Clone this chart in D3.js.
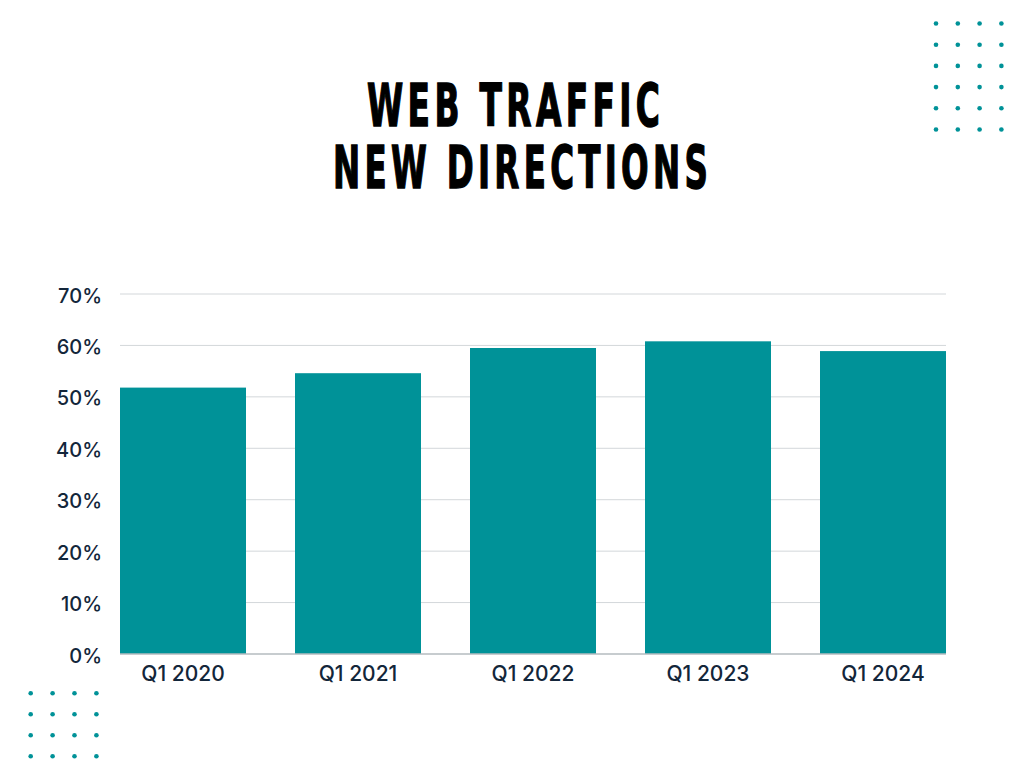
<!DOCTYPE html>
<html>
<head>
  <meta charset="utf-8">
  <style>
    body { margin: 0; background: white; font-family: Inter, "Open Sans", sans-serif; }
    svg { display: block; }
  </style>
</head>
<body>
  <svg id="chart"></svg>
  <script src="https://cdn.jsdelivr.net/npm/d3@7/dist/d3.min.js"></script>
  <script>
    // data
    var categories = ["Q1 2020", "Q1 2021", "Q1 2022", "Q1 2023", "Q1 2024"];
    var values = [51.8, 54.6, 59.5, 60.8, 58.9];
    var tickValues = [0, 10, 20, 30, 40, 50, 60, 70];
    var titleLines = ["WEB TRAFFIC", "NEW DIRECTIONS"];

    var width = 1024, height = 768;
    var margin = { top: 294, left: 120, right: 78, bottom: 114 };
    var teal = "#009298";

    var svg = d3.select("#chart")
      .attr("width", width)
      .attr("height", height);

    // title: tracked-out bold text squeezed horizontally to the widths seen
    var titleWidths = [293, 375];
    var titleLefts = [367, 333];
    var tracking = 7;
    svg.append("g").selectAll("text")
      .data(titleLines)
      .join("text")
      .attr("font-family", "'Liberation Sans Narrow', 'DejaVu Sans Condensed', sans-serif")
      .attr("font-weight", "bold")
      .attr("font-size", 59)
      .attr("letter-spacing", tracking)
      .attr("fill", "#000")
      .attr("stroke", "#000")
      .attr("stroke-width", 1.4)
      .text(function(d) { return d; })
      .attr("transform", function(d, i) {
        var len = this.getComputedTextLength() - tracking;
        var s = titleWidths[i] / len;
        return "translate(" + titleLefts[i] + "," + (126 + i * 62) + ") scale(" + s + ",1)";
      });

    var x = d3.scaleBand()
      .domain(categories)
      .range([margin.left, width - margin.right])
      .paddingInner(0.28)
      .paddingOuter(0);

    var y = d3.scaleLinear()
      .domain([0, 70])
      .range([height - margin.bottom, margin.top]);

    // gridlines
    svg.append("g").selectAll("line")
      .data(tickValues.filter(function(d) { return d > 0; }))
      .join("line")
      .attr("x1", margin.left)
      .attr("x2", width - margin.right)
      .attr("y1", function(d) { return y(d); })
      .attr("y2", function(d) { return y(d); })
      .attr("stroke", "#d3d7da")
      .attr("stroke-width", 1);

    // bars
    svg.append("g").selectAll("rect")
      .data(values)
      .join("rect")
      .attr("x", function(d, i) { return x(categories[i]); })
      .attr("y", function(d) { return y(d); })
      .attr("width", x.bandwidth())
      .attr("height", function(d) { return y(0) - y(d); })
      .attr("fill", teal);

    // baseline
    svg.append("line")
      .attr("x1", margin.left)
      .attr("x2", width - margin.right)
      .attr("y1", y(0))
      .attr("y2", y(0))
      .attr("stroke", "#b4bbbf")
      .attr("stroke-width", 1.5);

    // y axis labels
    var yAxis = d3.axisLeft(y)
      .tickValues(tickValues)
      .tickFormat(function(d) { return d + "%"; })
      .tickSize(0)
      .tickPadding(18);
    var yG = svg.append("g")
      .attr("transform", "translate(" + margin.left + ",0)")
      .call(yAxis);
    yG.select(".domain").remove();
    yG.selectAll("text")
      .attr("font-family", "Inter, sans-serif")
      .attr("font-size", 20)
      .attr("font-weight", 500)
      .attr("dy", "0.4em")
      .attr("fill", "#13263a");

    // x axis labels
    var xAxis = d3.axisBottom(x).tickSize(0).tickPadding(12);
    var xG = svg.append("g")
      .attr("transform", "translate(0," + y(0) + ")")
      .call(xAxis);
    xG.select(".domain").remove();
    xG.selectAll("text")
      .attr("font-family", "Inter, sans-serif")
      .attr("font-size", 21)
      .attr("font-weight", 500)
      .attr("fill", "#13263a");

    // decorative dot grids
    function dotGrid(x0, y0, cols, rows, dx, dy) {
      var pts = [];
      d3.range(rows).forEach(function(r) {
        d3.range(cols).forEach(function(c) {
          pts.push([x0 + c * dx, y0 + r * dy]);
        });
      });
      svg.append("g").selectAll("circle")
        .data(pts)
        .join("circle")
        .attr("cx", function(d) { return d[0]; })
        .attr("cy", function(d) { return d[1]; })
        .attr("r", 2.3)
        .attr("fill", teal);
    }
    dotGrid(936, 23.5, 4, 6, 21.8, 21.2);
    dotGrid(30.7, 693.3, 4, 4, 21.9, 21);
  </script>
</body>
</html>
